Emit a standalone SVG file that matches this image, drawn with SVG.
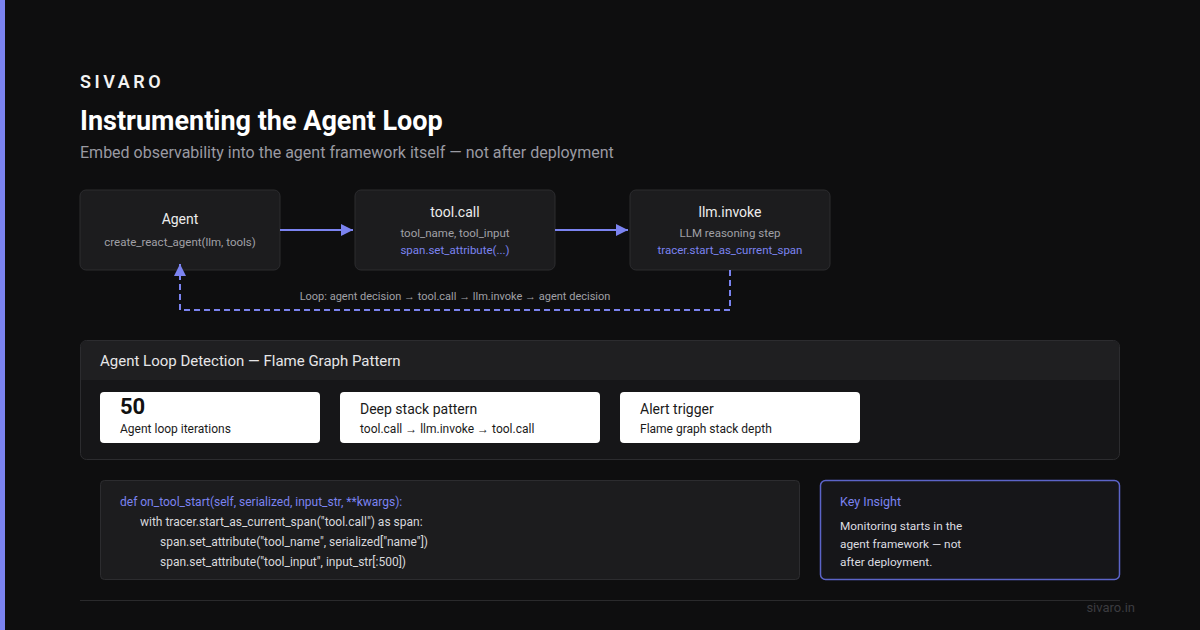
<svg xmlns="http://www.w3.org/2000/svg" width="1200" height="630" viewBox="0 0 1200 630">
<defs>
<style>
text{font-family:Roboto,"Liberation Sans",sans-serif}
.node{fill:#1c1c1e;stroke:#2c2c2f;stroke-width:1}
.nt{fill:#ececec;font-size:14px;text-anchor:middle}
.ns{fill:#a0a0a6;font-size:11.5px;text-anchor:middle}
.nb{fill:#7b83f0;font-size:11.5px;text-anchor:middle}
.card{fill:#ffffff}
.ct{fill:#1a1a1a;font-size:14px}
.cs{fill:#1a1a1a;font-size:12px}
.code{fill:#d8d8dc;font-size:12px}
.conn{stroke:#7b83f0;stroke-width:2;fill:none}
</style>
<marker id="ah" viewBox="0 0 12 12" refX="12" refY="6" markerWidth="12" markerHeight="12" orient="auto" markerUnits="userSpaceOnUse">
<path d="M0,0 L12,6 L0,12 z" fill="#7b83f0"/>
</marker>
</defs>
<rect x="0" y="0" width="1200" height="630" fill="#0e0e0f"/>
<rect x="0" y="0" width="5" height="630" fill="#7b83f0"/>
<g id="header">
<text x="80" y="88" fill="#f2f2f2" font-size="18" font-weight="600" letter-spacing="3.5">SIVARO</text>
<text x="80" y="130" fill="#ffffff" font-size="27" font-weight="700">Instrumenting the Agent Loop</text>
<text x="80" y="158" fill="#9a9aa2" font-size="16">Embed observability into the agent framework itself — not after deployment</text>
</g>
<g id="node-agent">
<rect class="node" x="80" y="190" width="200" height="80" rx="6"/>
<text class="nt" x="180" y="224">Agent</text>
<text class="ns" x="180" y="246">create_react_agent(llm, tools)</text>
</g>
<g id="node-toolcall">
<rect class="node" x="355" y="190" width="200" height="80" rx="6"/>
<text class="nt" x="455" y="217">tool.call</text>
<text class="ns" x="455" y="237">tool_name, tool_input</text>
<text class="nb" x="455" y="254">span.set_attribute(...)</text>
</g>
<g id="node-llm">
<rect class="node" x="630" y="190" width="200" height="80" rx="6"/>
<text class="nt" x="730" y="217">llm.invoke</text>
<text class="ns" x="730" y="237">LLM reasoning step</text>
<text class="nb" x="730" y="254">tracer.start_as_current_span</text>
</g>
<g id="connectors">
<line class="conn" x1="280" y1="230" x2="353" y2="230" marker-end="url(#ah)"/>
<line class="conn" x1="555" y1="230" x2="628" y2="230" marker-end="url(#ah)"/>
<path class="conn" d="M730,270 L730,310 L180,310 L180,264" stroke-dasharray="6,4" marker-end="url(#ah)"/>
<text x="455" y="300" fill="#a0a0a6" font-size="11" text-anchor="middle">Loop: agent decision → tool.call → llm.invoke → agent decision</text>
</g>
<g id="panel">
<rect x="80.5" y="340.5" width="1039" height="119" rx="6" fill="#161618" stroke="#2c2c2f"/>
<path d="M81,380 L81,346 Q81,341 86,341 L1114,341 Q1119,341 1119,346 L1119,380 Z" fill="#1f1f21"/>
<text x="100" y="366" fill="#e6e6e8" font-size="15">Agent Loop Detection — Flame Graph Pattern</text>
</g>
<g id="card-iterations">
<rect class="card" x="100" y="392" width="220" height="51" rx="4"/>
<text x="120" y="414" fill="#111" font-size="22" font-weight="700">50</text>
<text class="cs" x="120" y="433">Agent loop iterations</text>
</g>
<g id="card-stack">
<rect class="card" x="340" y="392" width="260" height="51" rx="4"/>
<text class="ct" x="360" y="414">Deep stack pattern</text>
<text class="cs" x="360" y="433">tool.call → llm.invoke → tool.call</text>
</g>
<g id="card-alert">
<rect class="card" x="620" y="392" width="240" height="51" rx="4"/>
<text class="ct" x="640" y="414">Alert trigger</text>
<text class="cs" x="640" y="433">Flame graph stack depth</text>
</g>
<g id="code">
<rect x="100.5" y="480.5" width="699" height="99" rx="4" fill="#1c1c1e" stroke="#2c2c2f"/>
<text x="120" y="506" fill="#7b83f0" font-size="12">def on_tool_start(self, serialized, input_str, **kwargs):</text>
<text class="code" x="140" y="526">with tracer.start_as_current_span("tool.call") as span:</text>
<text class="code" x="160" y="546">span.set_attribute("tool_name", serialized["name"])</text>
<text class="code" x="160" y="566">span.set_attribute("tool_input", input_str[:500])</text>
</g>
<g id="insight">
<rect x="820.5" y="480.5" width="299" height="99" rx="5" fill="#161619" stroke="#5c64c8" stroke-width="1.5"/>
<text x="840" y="506" fill="#7b83f0" font-size="12.5">Key Insight</text>
<text x="840" y="530" fill="#dcdce0" font-size="11.8">Monitoring starts in the</text>
<text x="840" y="548" fill="#dcdce0" font-size="11.8">agent framework — not</text>
<text x="840" y="566" fill="#dcdce0" font-size="11.8">after deployment.</text>
</g>
<g id="footer">
<line x1="80" y1="600.5" x2="1120" y2="600.5" stroke="#2a2a2c"/>
<text x="1135" y="612" fill="#3c3c40" font-size="13" text-anchor="end">sivaro.in</text>
</g>
</svg>
